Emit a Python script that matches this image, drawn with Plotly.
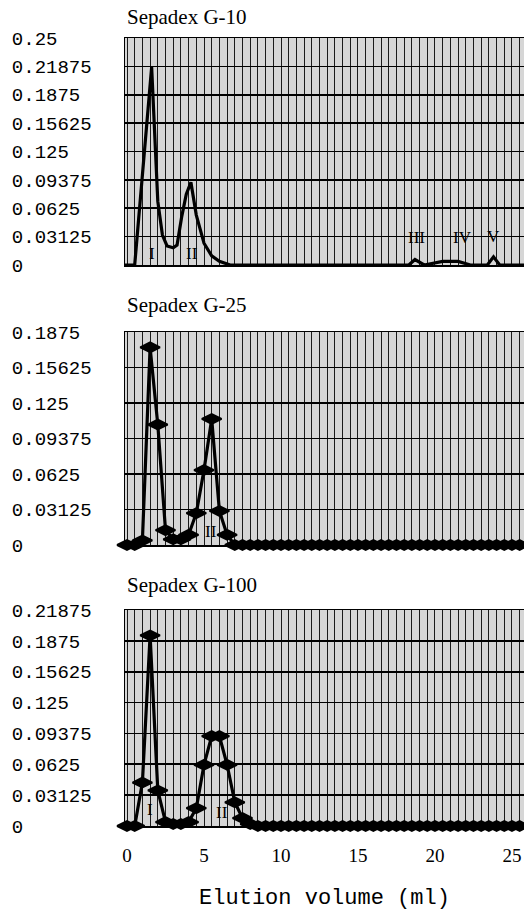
import plotly.graph_objects as go

# ---------------- data ----------------
# Sepadex G-10 (continuous trace)
g10_x = [-0.2, 0.5, 1.6, 1.75, 2.0, 2.3, 2.6, 3.0, 3.25, 3.55, 3.85, 4.15, 4.5, 5.0, 5.5, 6.0, 6.7,
         18.3, 18.7, 19.3, 20.0, 20.5, 21.5, 22.3, 23.4, 23.8, 24.2, 26.0]
g10_y = [0, 0, 0.218, 0.16, 0.07, 0.033, 0.021, 0.019, 0.022, 0.053, 0.078, 0.091, 0.055, 0.024, 0.010, 0.004, 0,
         0, 0.006, 0, 0.002, 0.004, 0.004, 0, 0, 0.009, 0, 0]

# fractions every 0.5 ml
frac_x = [i * 0.5 for i in range(52)]
g25_peak = [0, 0, 0.004, 0.174, 0.106, 0.013, 0.005, 0.005, 0.009, 0.028, 0.066, 0.111, 0.030, 0.009, 0]
g25_y = g25_peak + [0] * (len(frac_x) - len(g25_peak))
g100_peak = [0, 0, 0.044, 0.193, 0.036, 0.004, 0.002, 0.002, 0.004, 0.018, 0.062, 0.091, 0.091, 0.062,
             0.024, 0.008, 0.002]
g100_y = g100_peak + [0] * (len(frac_x) - len(g100_peak))

titles = ["Sepadex G-10", "Sepadex G-25", "Sepadex G-100"]
y_ticks = [
    [0, 0.03125, 0.0625, 0.09375, 0.125, 0.15625, 0.1875, 0.21875, 0.25],
    [0, 0.03125, 0.0625, 0.09375, 0.125, 0.15625, 0.1875],
    [0, 0.03125, 0.0625, 0.09375, 0.125, 0.15625, 0.1875, 0.21875],
]
x_ticks = [0, 5, 10, 15, 20, 25]

peak_labels = [
    [("I", 1.65, 0.013), ("II", 4.2, 0.013), ("III", 18.8, 0.030), ("IV", 21.8, 0.030), ("V", 23.8, 0.031)],
    [("II", 5.45, 0.012)],
    [("I", 1.5, 0.017), ("II", 6.2, 0.014)],
]

# ---------------- layout geometry ----------------
H = 911
W = 524
panels_px = [(38, 265), (332, 545), (610, 826)]  # top, bottom pixel
title_px = [17, 305, 585]

def fy(px):
    return 1 - px / H

def lbl(v):
    s = "0" if v == 0 else ("%g" % v)
    return s + "\u00a0" * (7 - len(s))

fig = go.Figure()

mono = "Liberation Mono"
serif = "Liberation Serif"

for i in range(3):
    xa = "x" if i == 0 else "x%d" % (i + 1)
    ya = "y" if i == 0 else "y%d" % (i + 1)
    if i == 0:
        fig.add_trace(go.Scatter(x=g10_x, y=g10_y, mode="lines", xaxis=xa, yaxis=ya,
                                 line=dict(color="black", width=3.2), cliponaxis=True,
                                 showlegend=False, hoverinfo="skip"))
    else:
        yy = g25_y if i == 1 else g100_y
        fig.add_trace(go.Scatter(x=frac_x, y=yy, mode="lines+markers", xaxis=xa, yaxis=ya,
                                 line=dict(color="black", width=3.2),
                                 marker=dict(symbol="diamond-wide", size=14, color="black",
                                             line=dict(color="black", width=2)),
                                 cliponaxis=False, showlegend=False, hoverinfo="skip"))
    top, bot = panels_px[i]
    axis_common = dict(showline=True, mirror=True, linecolor="black", linewidth=1.5, zeroline=False)
    fig.layout[("xaxis" if i == 0 else "xaxis%d" % (i + 1))] = dict(
        domain=[0, 1], anchor=ya, range=[-0.13, 25.78],
        tickvals=x_ticks, ticktext=[str(t) for t in x_ticks],
        showticklabels=(i == 2), ticks="",
        showgrid=True, gridcolor="#1a1a1a", gridwidth=1,
        minor=dict(dtick=0.5, tick0=0, showgrid=True, gridcolor="#1a1a1a", gridwidth=1),
        tickfont=dict(family=serif, size=19, color="black"),
        ticklabelstandoff=12,
        title=dict(text="Elution volume (ml)" if i == 2 else "",
                   font=dict(family=mono, size=22, color="black"), standoff=30),
        automargin=False,
        **axis_common)
    yt = y_ticks[i]
    fig.layout[("yaxis" if i == 0 else "yaxis%d" % (i + 1))] = dict(
        domain=[fy(bot), fy(top)], anchor=xa, range=[0, yt[-1]],
        tickvals=yt, ticktext=[lbl(v) for v in yt], ticks="",
        showgrid=True, gridcolor="black", gridwidth=1.6,
        tickfont=dict(family=mono, size=19, color="black"),
        ticklabelstandoff=28, automargin=False,
        **axis_common)
    fig.add_annotation(text=titles[i], xref="paper", yref="paper", x=0, y=fy(title_px[i]),
                       xanchor="left", yanchor="middle", showarrow=False,
                       font=dict(family=serif, size=21, color="black"))
    for t, xv, yv in peak_labels[i]:
        fig.add_annotation(text=t, xref=xa, yref=ya, x=xv, y=yv, showarrow=False,
                           xanchor="center", yanchor="middle",
                           font=dict(family=serif, size=17, color="black"))

fig.update_layout(width=W, height=H, margin=dict(l=125, r=0, t=0, b=0),
                  paper_bgcolor="white", plot_bgcolor="#d6d6d6", hovermode=False)

fig.write_html("out.html", config={"displayModeBar": False, "staticPlot": True},
               post_script="document.body.style.margin='0';document.body.style.overflow='hidden';")
